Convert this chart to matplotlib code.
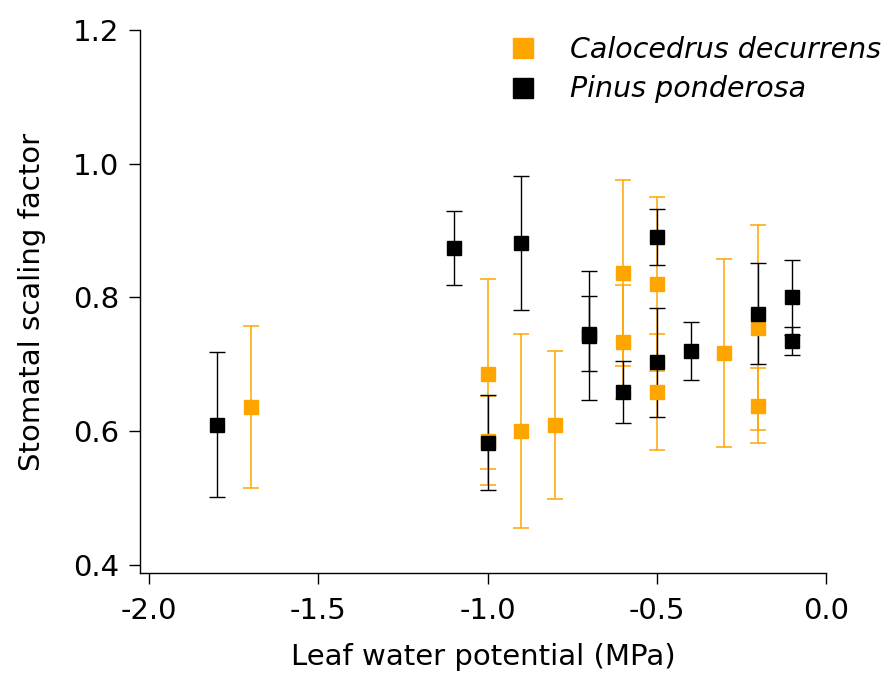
import matplotlib.pyplot as plt
from matplotlib.lines import Line2D

# Calocedrus decurrens (orange)
cal_x = [-1.7, -1.0, -1.0, -0.9, -0.8, -0.6, -0.6, -0.5, -0.5, -0.3, -0.2, -0.2]
cal_y = [0.636, 0.686, 0.586, 0.601, 0.609, 0.836, 0.733, 0.820, 0.659, 0.717, 0.755, 0.638]
cal_err = [0.121, 0.142, 0.066, 0.145, 0.111, 0.139, 0.085, 0.130, 0.087, 0.140, 0.153, 0.056]

# Pinus ponderosa (black)
pin_x = [-1.8, -1.1, -1.0, -0.9, -0.7, -0.7, -0.6, -0.5, -0.5, -0.4, -0.2, -0.1, -0.1]
pin_y = [0.610, 0.874, 0.583, 0.882, 0.743, 0.746, 0.659, 0.891, 0.703, 0.720, 0.776, 0.800, 0.735]
pin_err = [0.108, 0.056, 0.071, 0.100, 0.097, 0.056, 0.046, 0.042, 0.081, 0.044, 0.075, 0.056, 0.021]

fig = plt.figure(figsize=(8.91, 6.73), dpi=100)
ax = fig.add_axes([140/891, 1 - 573/673, (826 - 140)/891, (573 - 30)/673])

orange = '#FFA500'
ax.errorbar(cal_x, cal_y, yerr=cal_err, fmt='s', color=orange, ecolor=orange,
            markersize=9.5, capsize=6, elinewidth=1.1, capthick=1.1)
ax.errorbar(pin_x, pin_y, yerr=pin_err, fmt='s', color='black', ecolor='black',
            markersize=9.5, capsize=6, elinewidth=1.0, capthick=1.0)

ax.set_xlim(-2.027, 0.0)
ax.set_ylim(0.388, 1.2)
ax.set_xticks([-2.0, -1.5, -1.0, -0.5, 0.0])
ax.set_yticks([0.4, 0.6, 0.8, 1.0, 1.2])
ax.set_xticklabels(['-2.0', '-1.5', '-1.0', '-0.5', '0.0'])
ax.set_yticklabels(['0.4', '0.6', '0.8', '1.0', '1.2'])
ax.spines['top'].set_visible(False)
ax.spines['right'].set_visible(False)
ax.spines['left'].set_linewidth(1.0)
ax.spines['bottom'].set_linewidth(1.0)
ax.tick_params(direction='out', length=8, width=1.0, labelsize=21)
ax.tick_params(axis='x', pad=9)
ax.tick_params(axis='y', pad=7)

ax.set_xlabel('Leaf water potential (MPa)', fontsize=21, labelpad=13)
ax.set_ylabel('Stomatal scaling factor', fontsize=21, labelpad=19)

handles = [
    Line2D([], [], marker='s', linestyle='none', color=orange, markersize=15),
    Line2D([], [], marker='s', linestyle='none', color='black', markersize=15),
]
leg = ax.legend(handles, ['Calocedrus decurrens', 'Pinus ponderosa'],
                loc='upper left', bbox_to_anchor=(0.5, 1.037), frameon=False,
                fontsize=20.5, handlelength=1.0, handletextpad=1.15, labelspacing=0.42)
for t in leg.get_texts():
    t.set_fontstyle('italic')

fig.savefig('out.png', dpi=100)
